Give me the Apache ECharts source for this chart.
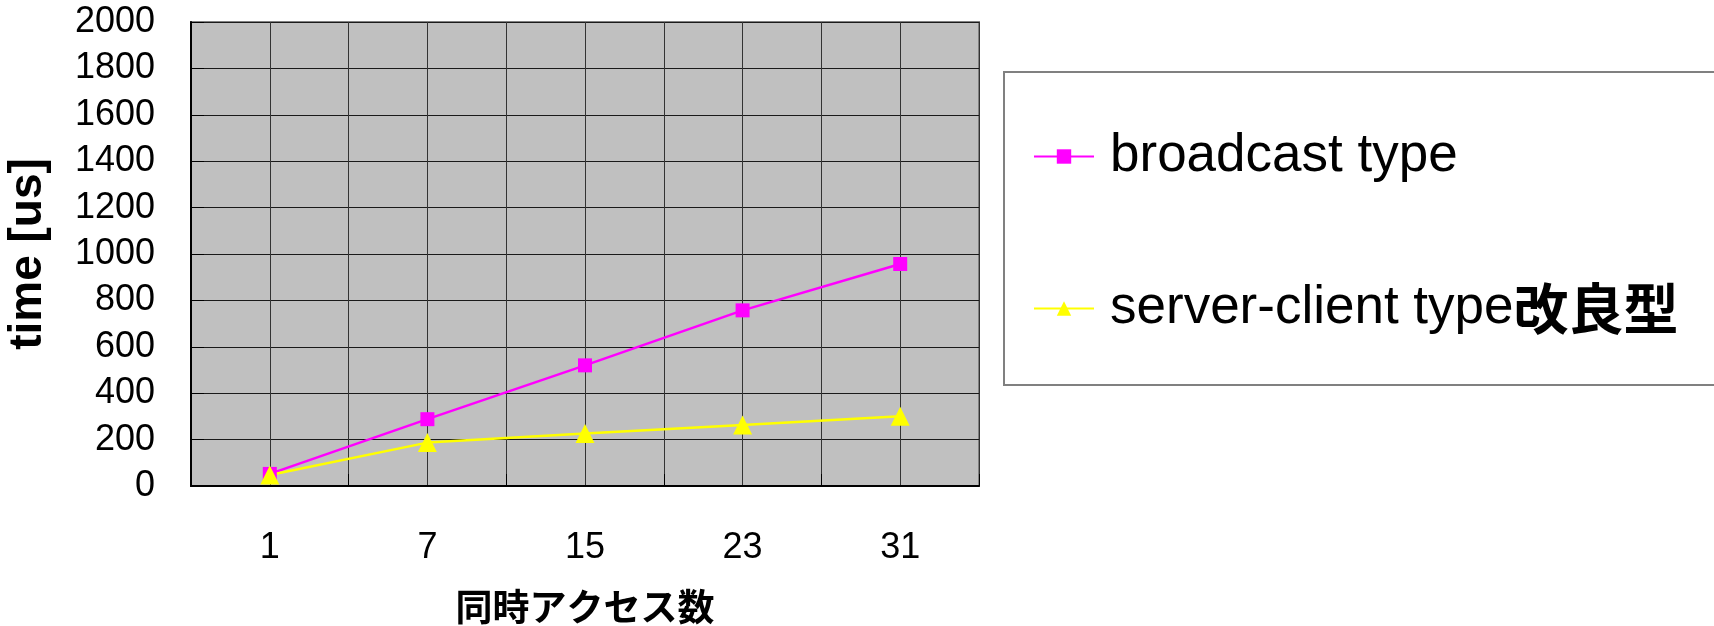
<!DOCTYPE html>
<html>
<head>
<meta charset="utf-8">
<script src="https://cdn.jsdelivr.net/npm/echarts@6/dist/echarts.min.js"></script>
<style>
  html, body { margin: 0; padding: 0; background: #fff; }
  #chart { width: 1714px; height: 626px; }
</style>
</head>
<body>
<div id="chart"></div>
<script>
// 同時アクセス数
const categories = ['1', '7', '15', '23', '31']
// time [us]
const broadcastType = [52, 288, 520, 757, 957]
const serverClientType = [47, 187, 226, 263, 301]
const seriesNames = ['broadcast type', 'server-client type改良型']

const latin = '"Liberation Sans", Arial, sans-serif'

const chart = echarts.init(document.getElementById('chart'))

const option = {
  animation: false,
  backgroundColor: '#fff',
  graphic: [
    {
      type: 'rect',
      z: 0,
      shape: { x: 1004, y: 72, width: 800, height: 313 },
      style: { fill: '#fff', stroke: '#808080', lineWidth: 2 }
    }
  ],
  legend: {
    orient: 'vertical',
    left: 1028,
    top: 125,
    itemWidth: 60,
    itemHeight: 18,
    itemGap: 98,
    z: 5,
    data: seriesNames,
    formatter: (name) => {
      if (name === seriesNames[1]) return '{a|server-client type}{b|改良型}'
      return '{a|' + name + '}'
    },
    textStyle: {
      padding: [0, 0, 0, 11],
      rich: {
        a: { fontFamily: latin, fontSize: 53, color: '#000', lineHeight: 60 },
        b: { fontFamily: '"Noto Sans CJK JP", sans-serif', fontWeight: 'bold', fontSize: 55, color: '#000', lineHeight: 60 }
      }
    }
  },
  grid: {
    left: 191,
    right: 735,
    top: 22,
    bottom: 140,
    outerBoundsMode: 'none',
    containLabel: false,
    show: true,
    backgroundColor: '#c0c0c0',
    borderColor: '#808080',
    borderWidth: 2
  },
  xAxis: [
    {
      type: 'category',
      data: categories,
      boundaryGap: true,
      name: '同時アクセス数',
      nameLocation: 'middle',
      nameGap: 102,
      nameTextStyle: {
        fontFamily: '"Noto Sans CJK JP", sans-serif',
        fontWeight: 'bold',
        fontSize: 37,
        color: '#000'
      },
      axisLine: { lineStyle: { color: '#000', width: 2 } },
      axisTick: { show: true, inside: true, length: 12, lineStyle: { color: '#000' } },
      axisLabel: { fontFamily: latin, fontSize: 36, color: '#000', margin: 44 },
      splitLine: { show: true, lineStyle: { color: '#222', width: 1 } }
    },
    {
      // only used for the extra vertical grid lines through the category centres
      type: 'value',
      min: 0,
      max: 10,
      interval: 1,
      position: 'bottom',
      axisLine: { show: false },
      axisTick: { show: false },
      axisLabel: { show: false },
      splitLine: { show: true, lineStyle: { color: '#333', width: 1 } }
    }
  ],
  yAxis: {
    type: 'value',
    min: 0,
    max: 2000,
    interval: 200,
    name: 'time [us]',
    nameLocation: 'middle',
    nameGap: 140,
    nameTextStyle: {
      fontFamily: latin,
      fontWeight: 'bold',
      fontSize: 46,
      color: '#000'
    },
    axisLine: { show: true, lineStyle: { color: '#000', width: 2 } },
    axisTick: { show: true, inside: true, length: 13, lineStyle: { color: '#000' } },
    axisLabel: {
      fontFamily: latin,
      fontSize: 36,
      color: '#000',
      margin: 36,
      formatter: (v) => String(v)
    },
    splitLine: { show: true, lineStyle: { color: '#1a1a1a', width: 1 } }
  },
  series: [
    {
      name: seriesNames[0],
      type: 'line',
      xAxisIndex: 0,
      data: broadcastType,
      symbol: 'rect',
      symbolSize: 14,
      color: '#ff00ff',
      lineStyle: { color: '#ff00ff', width: 2.5 },
      itemStyle: { color: '#ff00ff' }
    },
    {
      name: seriesNames[1],
      type: 'line',
      xAxisIndex: 0,
      data: serverClientType,
      symbol: 'triangle',
      symbolSize: 19,
      color: '#ffff00',
      lineStyle: { color: '#ffff00', width: 2.5 },
      itemStyle: { color: '#ffff00' }
    }
  ]
}

option && chart.setOption(option)
</script>
</body>
</html>
